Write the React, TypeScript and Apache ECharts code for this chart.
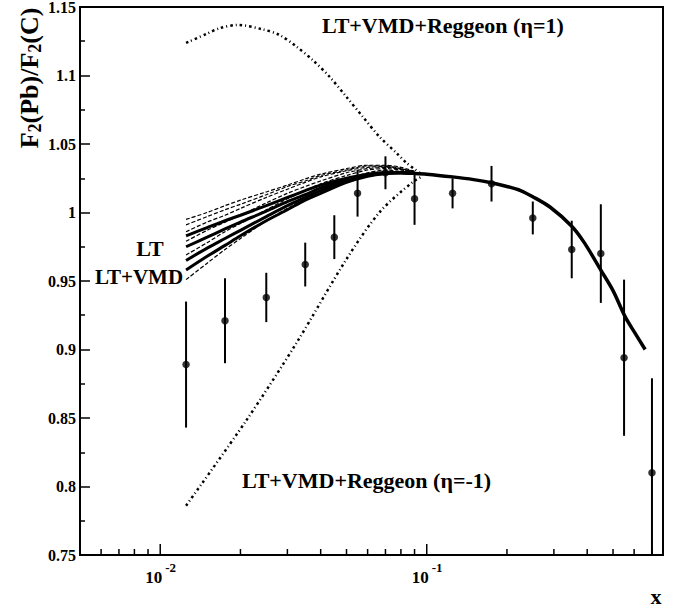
import { useEffect, useRef } from 'react';
import * as echarts from 'echarts';

const FONT = 'Liberation Serif';

// Measured data points with errors
const DATA_X = [0.0125, 0.0175, 0.025, 0.035, 0.045, 0.055, 0.07, 0.09, 0.125, 0.175, 0.25, 0.35, 0.45, 0.55, 0.70];
const DATA_Y = [0.889, 0.921, 0.938, 0.962, 0.982, 1.014, 1.029, 1.010, 1.014, 1.021, 0.996, 0.973, 0.970, 0.894, 0.810];
const DATA_ERR = [0.046, 0.031, 0.018, 0.016, 0.016, 0.017, 0.012, 0.019, 0.011, 0.013, 0.012, 0.021, 0.036, 0.057, 0.069];

// Low-x bundle of model curves
const LOWX = [0.0125, 0.015, 0.0175, 0.02, 0.025, 0.03, 0.035, 0.04, 0.05, 0.06, 0.07, 0.08, 0.09];
const LT_A = [0.983, 0.989, 0.994, 0.998, 1.005, 1.011, 1.016, 1.020, 1.025, 1.028, 1.029, 1.029, 1.0285];
const LT_B = [0.975, 0.982, 0.988, 0.993, 1.001, 1.008, 1.013, 1.018, 1.024, 1.0275, 1.029, 1.029, 1.0285];
const LT_C = [0.965, 0.974, 0.981, 0.987, 0.997, 1.005, 1.011, 1.016, 1.023, 1.027, 1.0285, 1.029, 1.0285];
const LT_D = [0.958, 0.968, 0.976, 0.983, 0.994, 1.002, 1.009, 1.014, 1.022, 1.0265, 1.0285, 1.029, 1.0285];
const VMD_E = [0.995, 1.000, 1.005, 1.009, 1.015, 1.020, 1.0245, 1.028, 1.032, 1.0345, 1.0345, 1.033, 1.030];
const VMD_F = [0.991, 0.997, 1.002, 1.006, 1.013, 1.019, 1.023, 1.027, 1.031, 1.034, 1.034, 1.032, 1.030];
const VMD_G = [0.986, 0.993, 0.998, 1.003, 1.011, 1.017, 1.022, 1.026, 1.0305, 1.033, 1.0335, 1.032, 1.0295];
const VMD_H = [0.979, 0.987, 0.993, 0.998, 1.007, 1.014, 1.019, 1.023, 1.029, 1.032, 1.033, 1.0315, 1.0295];
const VMD_I = [0.969, 0.978, 0.986, 0.992, 1.002, 1.010, 1.016, 1.021, 1.027, 1.031, 1.032, 1.031, 1.029];
const VMD_J = [0.951, 0.963, 0.973, 0.981, 0.994, 1.003, 1.010, 1.016, 1.024, 1.029, 1.031, 1.030, 1.029];
const LT_CURVES = [LT_A, LT_B, LT_C, LT_D];
const VMD_CURVES = [VMD_E, VMD_F, VMD_G, VMD_H, VMD_I, VMD_J];

// Common high-x curve
const TAIL_X = [0.09, 0.1, 0.125, 0.15, 0.175, 0.2, 0.225, 0.25, 0.29, 0.35, 0.39, 0.45, 0.5, 0.555, 0.6, 0.66];
const TAIL_Y = [1.0285, 1.028, 1.026, 1.024, 1.0217, 1.019, 1.016, 1.0115, 1.004, 0.990, 0.978, 0.958, 0.943, 0.924, 0.913, 0.900];

// Reggeon curves
const REG_UP_X = [0.0125, 0.0149, 0.0167, 0.0195, 0.0242, 0.028, 0.0325, 0.0373, 0.0432, 0.05, 0.0575, 0.0666, 0.0772, 0.0841, 0.0966];
const REG_UP_Y = [1.1238, 1.1303, 1.1345, 1.1369, 1.1337, 1.1296, 1.121, 1.1113, 1.0991, 1.0843, 1.070, 1.0551, 1.0432, 1.0361, 1.0274];
const REG_DN_X = [0.0125, 0.021, 0.0325, 0.05, 0.0666, 0.0886, 0.0966];
const REG_DN_Y = [0.786, 0.848, 0.905, 0.966, 1.0003, 1.0223, 1.0266];

// Axis tick labels
const Y_TICKS = [0.75, 0.8, 0.85, 0.9, 0.95, 1, 1.05, 1.1, 1.15];
const Y_LABELS = ['0.75', '0.8', '0.85', '0.9', '0.95', '1', '1.05', '1.1', '1.15'];
const X_MAJOR_TICKS = [0.01, 0.1];
const X_MAJOR_EXP = ['-2', '-1'];
const X_MINOR_TICKS = [0.006, 0.007, 0.008, 0.009, 0.02, 0.03, 0.04, 0.05, 0.06, 0.07, 0.08, 0.09, 0.2, 0.3, 0.4, 0.5, 0.6, 0.7];

const zip = (xs: number[], ys: number[]) => xs.map((x, i) => [x, ys[i]]);

export default function App() {
  const ref = useRef<HTMLDivElement>(null);
  useEffect(() => {
    document.body.style.margin = '0';
    const chart = echarts.init(ref.current!, null, { renderer: 'svg' });
    const series: any[] = [];

    series.push({
      type: 'custom',
      name: 'xticks',
      silent: true,
      data: [
        ...X_MAJOR_TICKS.map((x) => [x, 11]),
        ...X_MINOR_TICKS.map((x) => [x, 6]),
      ],
      renderItem: (params: any, api: any) => {
        const p = api.coord([api.value(0), 1]);
        const cs = params.coordSys;
        const yb = cs.y + cs.height;
        return {
          type: 'line',
          shape: { x1: p[0], y1: yb, x2: p[0], y2: yb - api.value(1) },
          style: { stroke: '#000', lineWidth: 1.5 },
        };
      },
      z: 1,
    });

    series.push({
      type: 'custom',
      name: 'xlabels',
      silent: true,
      clip: false,
      data: X_MAJOR_TICKS.map((x, i) => [x, i]),
      renderItem: (params: any, api: any) => {
        const p = api.coord([api.value(0), 1]);
        const cs = params.coordSys;
        const yb = cs.y + cs.height;
        const exp = X_MAJOR_EXP[api.value(1)];
        return {
          type: 'group',
          children: [
            {
              type: 'text',
              style: { x: p[0] + 2, y: yb + 22, text: '10', fontFamily: FONT, fontWeight: 'bold', fontSize: 17, fill: '#000', align: 'right', verticalAlign: 'middle' },
            },
            {
              type: 'text',
              style: { x: p[0] + 5, y: yb + 12, text: exp, fontFamily: FONT, fontWeight: 'bold', fontSize: 13, fill: '#000', align: 'left', verticalAlign: 'middle' },
            },
          ],
        };
      },
      z: 6,
    });

    series.push({
      type: 'custom',
      name: 'ylabels',
      silent: true,
      clip: false,
      data: Y_TICKS.map((y, i) => [0.01, y, i]),
      renderItem: (params: any, api: any) => {
        const p = api.coord([api.value(0), api.value(1)]);
        const cs = params.coordSys;
        return {
          type: 'text',
          style: { x: cs.x - 4, y: p[1], text: Y_LABELS[api.value(2)], fontFamily: FONT, fontWeight: 'bold', fontSize: 16, fill: '#000', align: 'right', verticalAlign: 'middle' },
        };
      },
      z: 6,
    });

    VMD_CURVES.forEach((c, i) => {
      series.push({
        type: 'line',
        name: 'LT+VMD ' + (i + 1),
        data: zip(LOWX, c),
        smooth: 0.3,
        showSymbol: false,
        lineStyle: { color: '#000', width: 1.2, type: [4, 2] },
        z: 2,
      });
    });
    LT_CURVES.forEach((c, i) => {
      series.push({
        type: 'line',
        name: 'LT ' + (i + 1),
        data: zip(LOWX, c),
        smooth: 0.3,
        showSymbol: false,
        lineStyle: { color: '#000', width: 3 },
        z: 3,
      });
    });
    series.push({
      type: 'line',
      name: 'LT common',
      data: zip(TAIL_X, TAIL_Y),
      smooth: 0.3,
      showSymbol: false,
      lineStyle: { color: '#000', width: 3.5 },
      z: 3,
    });
    series.push({
      type: 'line',
      name: 'LT+VMD+Reggeon (eta=1)',
      data: zip(REG_UP_X, REG_UP_Y),
      smooth: 0.3,
      showSymbol: false,
      lineStyle: { color: '#000', width: 2.5, type: [2.5, 3, 1, 3] },
      z: 2,
    });
    series.push({
      type: 'line',
      name: 'LT+VMD+Reggeon (eta=-1)',
      data: zip(REG_DN_X, REG_DN_Y),
      smooth: 0.3,
      showSymbol: false,
      lineStyle: { color: '#000', width: 2.5, type: [2.5, 3, 1, 3] },
      z: 2,
    });
    series.push({
      type: 'custom',
      name: 'errors',
      data: DATA_X.map((x, i) => [x, DATA_Y[i] - DATA_ERR[i], DATA_Y[i] + DATA_ERR[i]]),
      renderItem: (params: any, api: any) => {
        const p1 = api.coord([api.value(0), api.value(2)]);
        const p2 = api.coord([api.value(0), api.value(1)]);
        const cs = params.coordSys;
        const yb = Math.min(p2[1], cs.y + cs.height);
        return {
          type: 'line',
          shape: { x1: p1[0], y1: p1[1], x2: p2[0], y2: yb },
          style: { stroke: '#000', lineWidth: 2 },
        };
      },
      z: 4,
    });
    series.push({
      type: 'scatter',
      name: 'data',
      data: zip(DATA_X, DATA_Y),
      symbol: 'circle',
      symbolSize: 7.5,
      itemStyle: { color: '#000' },
      z: 5,
    });

    chart.setOption({
      animation: false,
      backgroundColor: '#fff',
      grid: {
        left: 80, right: 21, top: 7, bottom: 52,
        show: true, borderColor: '#000', borderWidth: 2, backgroundColor: 'transparent',
      },
      xAxis: {
        type: 'log',
        logBase: 10,
        min: 0.005,
        max: 0.77,
        axisLine: { lineStyle: { color: '#000', width: 2 } },
        axisTick: { show: false },
        splitLine: { show: false },
        axisLabel: { show: false },
      },
      yAxis: {
        type: 'value',
        min: 0.75,
        max: 1.15,
        interval: 0.05,
        axisLine: { show: true, lineStyle: { color: '#000', width: 2 } },
        axisTick: { show: true, inside: true, length: 10, lineStyle: { color: '#000', width: 1.5 } },
        minorTick: { show: true, splitNumber: 2, length: 5, lineStyle: { color: '#000', width: 1.5 } },
        splitLine: { show: false },
        axisLabel: { show: false },
      },
      graphic: [
        {
          type: 'text',
          x: 30, y: 78,
          rotation: Math.PI / 2,
          style: {
            text: '{m|F}{u|2}{m|(Pb)/F}{u|2}{m|(C)}',
            align: 'center',
            verticalAlign: 'middle',
            rich: {
              m: { fontFamily: FONT, fontWeight: 'bold', fontSize: 26, lineHeight: 28, verticalAlign: 'top', fill: '#000' },
              u: { fontFamily: FONT, fontWeight: 'bold', fontSize: 18, lineHeight: 20, padding: [12, 0, 0, 0], verticalAlign: 'bottom', fill: '#000' },
            },
          },
        },
        {
          type: 'text',
          x: 322, y: 25,
          style: { text: 'LT+VMD+Reggeon (η=1)', fontFamily: FONT, fontWeight: 'bold', fontSize: 22, fill: '#000', verticalAlign: 'middle' },
        },
        {
          type: 'text',
          x: 242, y: 480,
          style: { text: 'LT+VMD+Reggeon (η=-1)', fontFamily: FONT, fontWeight: 'bold', fontSize: 22, fill: '#000', verticalAlign: 'middle' },
        },
        {
          type: 'text',
          x: 150, y: 248,
          style: { text: 'LT', fontFamily: FONT, fontWeight: 'bold', fontSize: 22, fill: '#000', align: 'center', verticalAlign: 'middle' },
        },
        {
          type: 'text',
          x: 139, y: 277,
          style: { text: 'LT+VMD', fontFamily: FONT, fontWeight: 'bold', fontSize: 21, fill: '#000', align: 'center', verticalAlign: 'middle' },
        },
        {
          type: 'text',
          x: 656, y: 596,
          style: { text: 'x', fontFamily: FONT, fontWeight: 'bold', fontSize: 22, fill: '#000', align: 'center', verticalAlign: 'middle' },
        },
      ],
      series,
    });
    return () => chart.dispose();
  }, []);
  return <div ref={ref} style={{ width: 684, height: 607 }} />;
}
